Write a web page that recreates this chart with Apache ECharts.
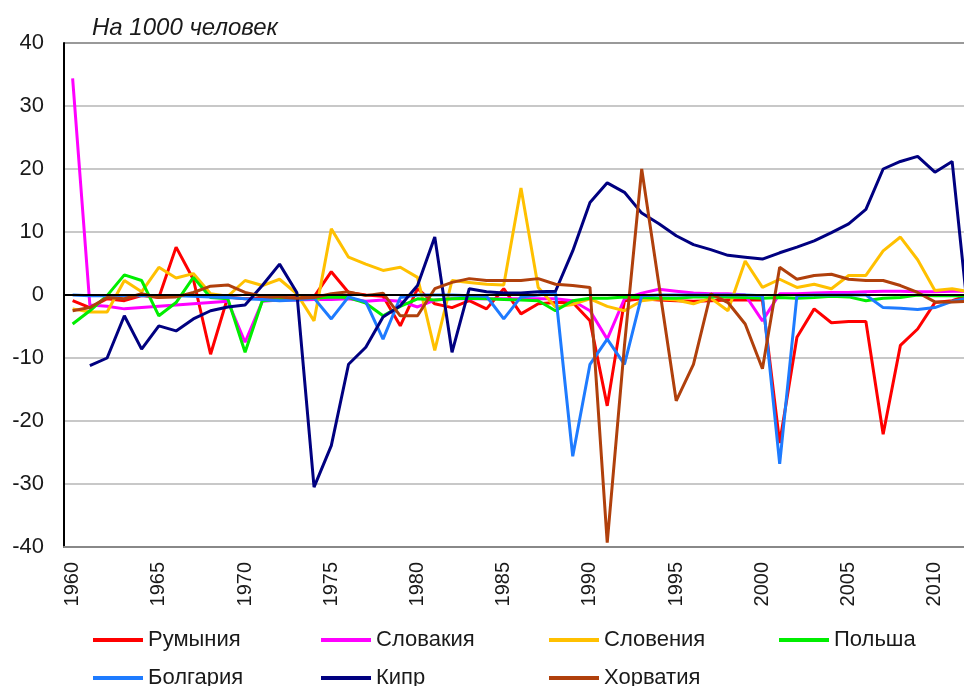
<!DOCTYPE html>
<html>
<head>
<meta charset="utf-8">
<script src="https://cdn.jsdelivr.net/npm/echarts@6/dist/echarts.min.js"></script>
<style>
html,body{margin:0;padding:0;background:#fff;}
#chart{width:964px;height:686px;}
</style>
</head>
<body>
<div id="chart"></div>
<script>
var years = ['1960','1961','1962','1963','1964','1965','1966','1967','1968','1969',
  '1970','1971','1972','1973','1974','1975','1976','1977','1978','1979',
  '1980','1981','1982','1983','1984','1985','1986','1987','1988','1989',
  '1990','1991','1992','1993','1994','1995','1996','1997','1998','1999',
  '2000','2001','2002','2003','2004','2005','2006','2007','2008','2009',
  '2010','2011','2012'];

var romania = [-0.9,-2.0,-0.6,-0.9,-0.1,-0.4,7.6,2.5,-9.4,-0.3,
  -0.6,-0.5,-0.5,-0.4,-0.3,3.7,0.4,0.0,-0.2,-4.9,
  1.0,-1.4,-2.0,-0.9,-2.2,1.0,-3.0,-1.4,-1.2,-1.2,
  -4.1,-17.6,-0.9,-0.6,-0.8,-0.9,-1.0,-0.9,-0.8,-0.8,
  -0.8,-23.5,-6.7,-2.2,-4.4,-4.2,-4.2,-22.1,-8.0,-5.4,
  -1.2,-0.9,0.0];

var slovakia = [34.4,-1.6,-1.8,-2.2,-2.0,-1.8,-1.6,-1.4,-1.2,-1.0,
  -7.5,-1.0,-0.8,-0.8,-0.7,-0.7,-0.6,-1.0,-0.8,-1.0,
  -1.9,-0.8,-0.6,-0.6,-0.6,-0.6,-0.6,-0.6,-0.6,-0.9,
  -2.5,-7.0,-0.6,0.3,0.9,0.6,0.3,0.2,0.2,0.0,
  -4.1,0.2,0.2,0.3,0.4,0.4,0.5,0.6,0.6,0.5,
  0.5,0.6,0.6];

var slovenia = [-2.2,-2.7,-2.7,2.3,0.5,4.4,2.7,3.4,0.2,-0.2,
  2.3,1.5,2.5,0.2,-4.1,10.5,6.0,4.9,3.9,4.4,
  2.8,-8.8,2.3,2.0,1.7,1.6,17.0,1.2,-1.9,-1.5,
  -0.6,-1.8,-2.5,-0.9,-0.6,-0.8,-1.4,-0.5,-2.5,5.4,
  1.2,2.5,1.2,1.7,1.0,3.1,3.1,7.0,9.2,5.6,
  0.7,1.0,0.5];

var poland = [-4.6,-2.5,-0.1,3.2,2.3,-3.3,-1.2,2.8,-0.4,-0.6,
  -9.1,-0.9,-0.7,-0.5,-0.5,-0.3,-0.4,-1.3,-3.3,-1.8,
  -0.6,-0.8,-0.6,-0.5,-0.6,-0.7,-0.8,-0.9,-2.5,-0.9,
  -0.5,-0.5,-0.3,-0.4,-0.5,-0.5,-0.3,-0.3,-0.3,-0.4,
  -0.5,-0.4,-0.5,-0.4,-0.2,-0.3,-0.9,-0.5,-0.4,0.0,
  -0.1,-0.1,-0.2];

var bulgaria = [0.0,-0.1,-0.1,-0.1,-0.1,-0.1,-0.1,-0.2,-0.3,-0.4,
  -0.6,-0.7,-0.9,-0.8,-0.5,-3.8,-0.3,-1.1,-7.0,-0.4,
  0.0,0.0,0.0,-0.1,-0.2,-3.8,-0.3,0.0,0.4,-25.6,
  -11.0,-7.0,-11.0,-0.1,0.0,0.0,0.0,0.0,0.0,0.0,
  -0.1,-26.8,-0.1,0.0,0.0,0.0,0.0,-2.0,-2.1,-2.3,
  -2.0,-1.0,-0.5];

var cyprus = [null,-11.2,-10.0,-3.3,-8.6,-4.9,-5.7,-3.8,-2.5,-1.9,
  -1.6,1.5,4.9,0.4,-30.5,-23.9,-11.0,-8.3,-3.5,-1.7,
  1.5,9.2,-9.1,1.0,0.5,0.3,0.3,0.5,0.6,7.0,
  14.7,17.8,16.3,13.0,11.3,9.4,8.0,7.2,6.3,6.0,
  5.7,6.7,7.6,8.6,9.9,11.3,13.6,20.0,21.2,22.0,
  19.5,21.2,-5.0];

var croatia = [-2.5,-2.0,-0.4,-0.6,0.2,-0.4,-0.3,0.4,1.4,1.6,
  0.4,-0.2,-0.3,-0.5,-0.4,0.2,0.5,-0.1,0.3,-3.3,
  -3.3,1.0,2.0,2.6,2.3,2.3,2.3,2.6,1.7,1.5,
  1.2,-39.3,-8.0,20.0,1.6,-16.8,-11.0,0.2,-1.2,-4.6,
  -11.7,4.4,2.5,3.1,3.3,2.5,2.3,2.3,1.5,0.4,
  -1.1,-1.1,-1.0];

var seriesNames = ['Румыния','Словакия','Словения','Польша','Болгария','Кипр','Хорватия'];
var seriesData = [romania, slovakia, slovenia, poland, bulgaria, cyprus, croatia];
var colors = ['#FF0000','#FF00FF','#FFC000','#00EE00','#1E7BFF','#000080','#B0400C'];
var yTicks = [-40,-30,-20,-10,0,10,20,30,40];

var legendPos = [[93,629],[321,629],[549,629],[779,629],[93,667],[321,667],[549,667]];

var font = '"Liberation Sans", Arial, sans-serif';

var series = seriesNames.map(function(n, i){
  var s = {
    name: n,
    type: 'line',
    data: seriesData[i],
    symbol: 'none',
    connectNulls: false,
    lineStyle: {width: 3, color: colors[i]},
    itemStyle: {color: colors[i]},
    emphasis: {disabled: true},
    animation: false
  };
  if (i === 0) {
    s.markLine = {
      silent: true,
      symbol: ['none','none'],
      label: {show: false},
      lineStyle: {color: '#000', width: 2, type: 'solid'},
      data: [{yAxis: 0}],
      animation: false
    };
  }
  return s;
});

var legends = seriesNames.map(function(n, i){
  return {
    data: [n],
    left: legendPos[i][0],
    top: legendPos[i][1],
    icon: 'rect',
    itemWidth: 50,
    itemHeight: 4,
    padding: 0,
    selectedMode: false,
    textStyle: {fontFamily: font, fontSize: 22, color: '#1a1a1a', padding: [0,0,0,0]}
  };
});

var chart = echarts.init(document.getElementById('chart'), null, {renderer: 'canvas'});
chart.setOption({
  animation: false,
  backgroundColor: '#fff',
  color: colors,
  title: {
    text: 'На 1000 человек',
    left: 87,
    top: 11,
    textStyle: {fontFamily: font, fontSize: 24, fontStyle: 'italic', fontWeight: 'normal', color: '#1a1a1a'}
  },
  legend: legends,
  grid: {left: 64, top: 43, height: 504, width: 914, containLabel: false, outerBoundsMode: 'none'},
  xAxis: {
    type: 'category',
    data: years,
    boundaryGap: true,
    axisLine: {onZero: false, lineStyle: {color: '#888', width: 2}},
    axisTick: {show: false},
    axisLabel: {
      interval: 4,
      rotate: 90,
      margin: 15,
      fontFamily: font,
      fontSize: 20,
      color: '#1a1a1a'
    },
    splitLine: {show: false}
  },
  yAxis: {
    type: 'value',
    min: yTicks[0],
    max: yTicks[yTicks.length-1],
    interval: 10,
    axisLine: {show: true, lineStyle: {color: '#000', width: 2}},
    axisTick: {show: false},
    axisLabel: {fontFamily: font, fontSize: 22, color: '#1a1a1a', margin: 20},
    splitLine: {show: true, lineStyle: {color: ['#888','#c8c8c8','#c8c8c8','#c8c8c8','#c8c8c8','#c8c8c8','#c8c8c8','#c8c8c8','#999'], width: 2}}
  },
  series: series
});
</script>
</body>
</html>
